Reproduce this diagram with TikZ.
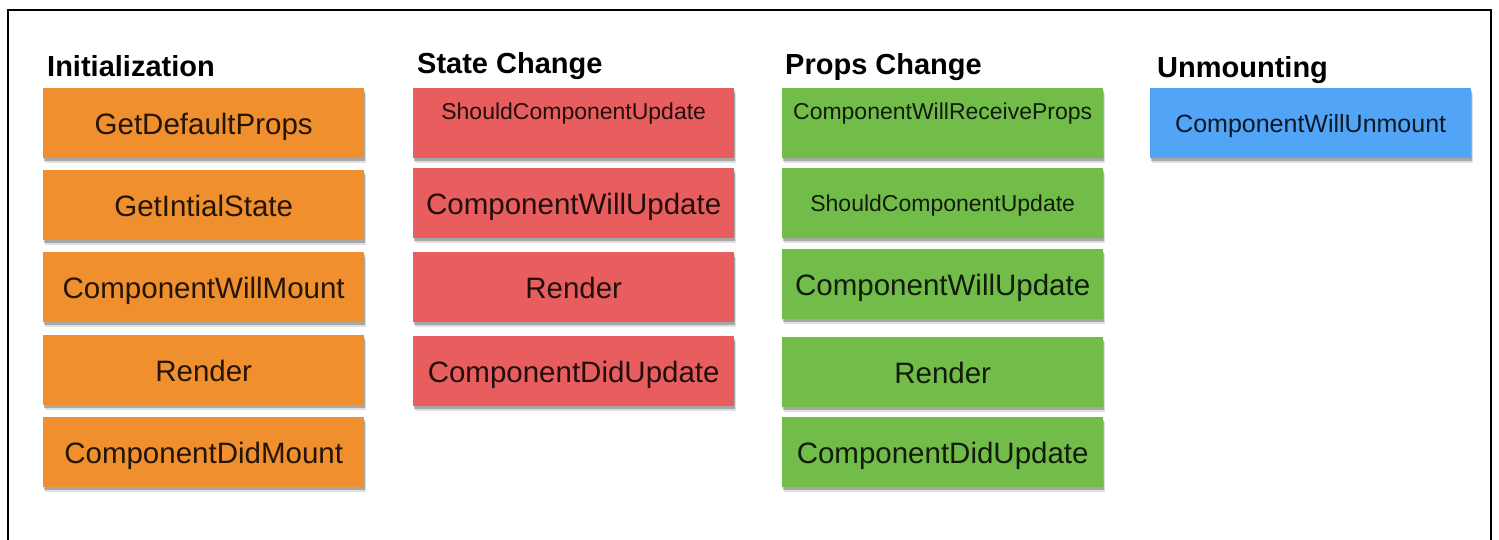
\documentclass[tikz,border=0pt]{standalone}
\usepackage{fontspec}
\setmainfont{Liberation Sans}
\usetikzlibrary{shadows}
\definecolor{orangebox}{RGB}{239,143,46}
\definecolor{redbox}{RGB}{232,94,94}
\definecolor{greenbox}{RGB}{114,189,74}
\definecolor{bluebox}{RGB}{82,164,246}
\tikzset{
  phase/.style={anchor=base west, inner sep=0pt, font=\fontsize{29}{34}\selectfont\bfseries, text=black},
  stepbox/.style={anchor=north west, rectangle, inner sep=0pt, minimum width=321pt, minimum height=70pt,
     drop shadow={shadow xshift=1.5pt, shadow yshift=-4.5pt, opacity=0.12, fill=black},
     drop shadow={shadow xshift=1pt, shadow yshift=-2.5pt, opacity=0.25, fill=black}},
  big/.style={font=\fontsize{29.5}{34}\selectfont, text height=22pt, text depth=0pt},
  smalltop/.style={font=\fontsize{23}{27}\selectfont, text height=17pt, text depth=25pt},
  smallmid/.style={font=\fontsize{23}{27}\selectfont, text height=16pt, text depth=0pt},
  mid/.style={font=\fontsize{25}{29}\selectfont, text height=18pt, text depth=0pt},
  ini/.style={stepbox, fill=orangebox, text=orangebox!15!black},
  sta/.style={stepbox, fill=redbox, text=redbox!15!black},
  pro/.style={stepbox, fill=greenbox, text=greenbox!15!black},
  unm/.style={stepbox, fill=bluebox, text=bluebox!15!black},
}
\begin{document}
\begin{tikzpicture}[x=1pt, y=-1pt]
\useasboundingbox (0,0) rectangle (1499,540);
\fill[white] (0,0) rectangle (1499,540);
\coordinate (fbl) at (8,541);
\coordinate (ftl) at (8,10);
\coordinate (ftr) at (1491,10);
\coordinate (fbr) at (1491,541);
\draw[line width=1.5pt] (fbl) -- (ftl) -- (ftr) -- (fbr);

% titles
\node[phase] (hinit) at (47,77) {Initialization};
\node[phase] (hstate) at (417,74) {State Change};
\node[phase] (hprops) at (785,75) {Props Change};
\node[phase] (hunm) at (1157,78) {Unmounting};

% Initialization
\node[ini, big] (i1) at (43,88) {GetDefaultProps};
\node[ini, big] (i2) at (43,170) {GetIntialState};
\node[ini, big] (i3) at (43,252) {ComponentWillMount};
\node[ini, big] (i4) at (43,335) {Render};
\node[ini, big] (i5) at (43,417) {ComponentDidMount};

% State Change
\node[sta, smalltop] (s1) at (413,88) {ShouldComponentUpdate};
\node[sta, big] (s2) at (413,168) {ComponentWillUpdate};
\node[sta, big] (s3) at (413,252) {Render};
\node[sta, big] (s4) at (413,336) {ComponentDidUpdate};

% Props Change
\node[pro, smalltop] (p1) at (782,88) {ComponentWillReceiveProps};
\node[pro, smallmid] (p2) at (782,168) {ShouldComponentUpdate};
\node[pro, big] (p3) at (782,249) {ComponentWillUpdate};
\node[pro, big] (p4) at (782,337) {Render};
\node[pro, big] (p5) at (782,417) {ComponentDidUpdate};

% Unmounting
\node[unm, mid] (u1) at (1150,88) {ComponentWillUnmount};
\end{tikzpicture}
\end{document}
